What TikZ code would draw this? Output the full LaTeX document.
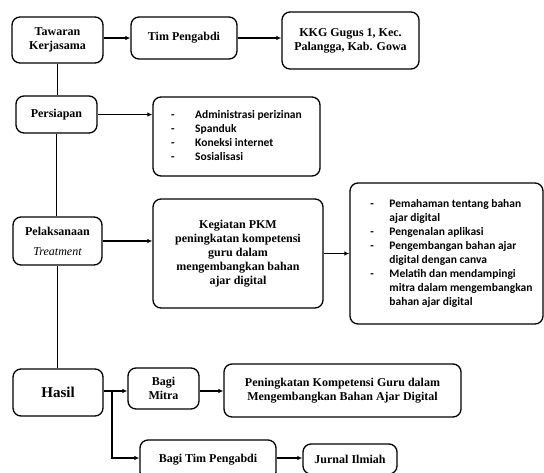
\documentclass[tikz,border=0pt]{standalone}
\usepackage{fontspec}
\setmainfont{Liberation Serif}
\newfontfamily\listfnt{Carlito}
\usetikzlibrary{arrows.meta}
\tikzset{
  box/.style={draw=black, line width=1.3pt, rounded corners=8pt, align=center, inner sep=0pt,
    font=\bfseries\fontsize{12}{14}\selectfont},
  listbox/.style={box, font=\listfnt\bfseries\fontsize{11.5}{14}\selectfont},
  arr/.style={line width=1.4pt, -{Latex[length=5pt,width=4.5pt]}},
  vline/.style={line width=0.8pt}
}
\begin{document}
\begin{tikzpicture}[x=1pt,y=-1pt]
\useasboundingbox (0,0) rectangle (544,472);
\clip (0,0) rectangle (544,472);
\node[box, minimum width=91, minimum height=46] (taw) at (57.5,40) {Tawaran\\Kerjasama};
\node[box, minimum width=106, minimum height=42] (tim) at (184,38) {Tim Pengabdi};
\node[box, minimum width=137, minimum height=57] (kkg) at (350.5,40.5) {KKG Gugus 1, Kec.\\Palangga, Kab. Gowa};
\node[box, minimum width=81, minimum height=37] (per) at (56.5,114.5) {Persiapan};
\node[listbox, minimum width=167, minimum height=79] (l1) at (236.5,136.5) {\begin{tabular}{@{}p{24pt}@{}l@{}}
-&Administrasi perizinan\\
-&Spanduk\\
-&Koneksi internet\\
-&Sosialisasi
\end{tabular}};
\node[box, minimum width=89, minimum height=48] (pel) at (57.5,241) {Pelaksanaan\\[6pt]{\mdseries\itshape Treatment}};
\node[box, minimum width=170, minimum height=109] (keg) at (238,253.5) {Kegiatan PKM\\peningkatan kompetensi\\guru dalam\\mengembangkan bahan\\ajar digital};
\node[listbox, minimum width=193, minimum height=141] (l2) at (446.5,253.5) {\begin{tabular}{@{\hspace{10pt}}p{19pt}@{}l@{}}
-&Pemahaman tentang bahan\\
&ajar digital\\
-&Pengenalan aplikasi\\
-&Pengembangan bahan ajar\\
&digital dengan canva\\
-&Melatih dan mendampingi\\
&mitra dalam mengembangkan\\
&bahan ajar digital
\end{tabular}};
\node[box, minimum width=90, minimum height=47, font=\bfseries\fontsize{15}{17}\selectfont] (has) at (58,392.5) {Hasil};
\node[box, minimum width=71, minimum height=41] (mit) at (163.5,388.5) {Bagi\\Mitra};
\node[box, minimum width=237, minimum height=53] (pen) at (342.5,390.5) {Peningkatan Kompetensi Guru dalam\\Mengembangkan Bahan Ajar Digital};
\node[box, minimum width=136, minimum height=40] (bt) at (208,460) {Bagi Tim Pengabdi};
\node[box, minimum width=94, minimum height=30] (jur) at (350,459) {Jurnal Ilmiah};
% connectors
\draw[arr] (taw.east |- tim.west) -- (tim.west);
\draw[arr] (tim.east) -- (tim.east -| kkg.west);
\draw[vline] (taw.south) -- (taw.south |- per.north);
\draw[arr] (per.east) -- (per.east -| l1.west);
\draw[vline] (per.south) -- (per.south |- pel.north);
\draw[arr] (pel.east) -- (pel.east -| keg.west);
\draw[arr] (keg.east) -- (l2.west);
\draw[vline] (pel.south) -- (pel.south |- has.north);
\coordinate (br) at (112,391);
\draw[arr] (has.east |- br) -- (br -| mit.west);
\draw[arr] (mit.east |- br) -- (br -| pen.west);
\draw[arr] (br) |- (bt.west |- 0,458);
\draw[arr] (bt.east |- 0,458) -- (jur.west |- 0,458);
\end{tikzpicture}
\end{document}
